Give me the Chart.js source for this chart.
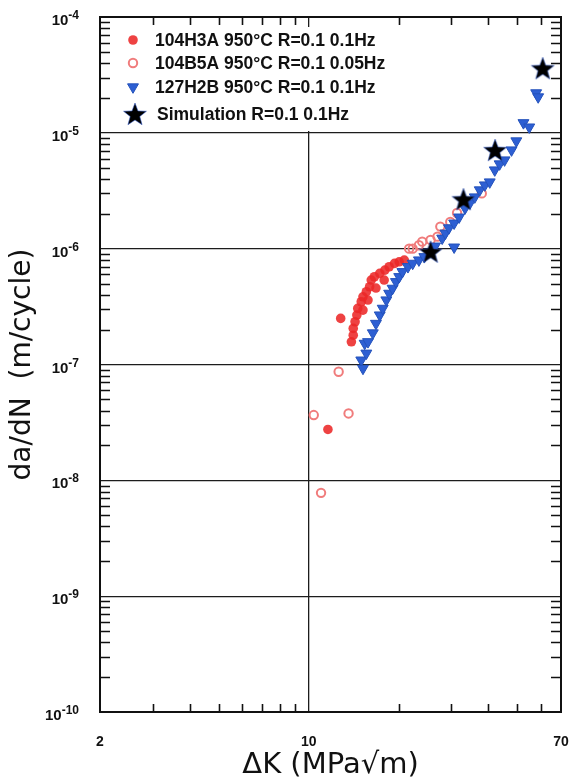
<!DOCTYPE html>
<html>
<head>
<meta charset="utf-8">
<script src="https://cdn.jsdelivr.net/npm/chart.js@4.4.1/dist/chart.umd.min.js"></script>
<style>
  html, body { margin: 0; padding: 0; background: #fff; }
  #wrap { width: 574px; height: 783px; }
</style>
</head>
<body>
<div id="wrap"><canvas id="crack" width="574" height="783"></canvas></div>
<script>
// --- Data: ΔK (MPa√m) and da/dN (m/cycle) per specimen ---
const h3aK = [11.6, 12.8, 13.9, 14.1, 14.1, 14.3, 14.5, 14.6, 15.0, 15.2, 15.2, 15.6, 15.8, 16.0, 16.2, 16.6, 16.8, 17.3, 17.9, 18.0, 18.6, 19.4, 20.1, 20.9];
const h3aRate = [2.75e-8, 2.50e-7, 1.57e-7, 1.79e-7, 2.05e-7, 2.34e-7, 2.67e-7, 3.05e-7, 3.48e-7, 3.84e-7, 2.95e-7, 4.25e-7, 3.6e-7, 4.69e-7, 5.36e-7, 5.72e-7, 4.57e-7, 6.12e-7, 5.36e-7, 6.53e-7, 6.98e-7, 7.46e-7, 7.70e-7, 7.97e-7];

const b5aK = [10.4, 11.0, 12.6, 13.6, 21.7, 22.3, 23.4, 24.0, 25.6, 27.0, 27.6, 29.8, 31.4, 38.0];
const b5aRate = [3.66e-8, 7.8e-9, 8.65e-8, 3.78e-8, 1.0e-6, 1.0e-6, 1.07e-6, 1.15e-6, 1.19e-6, 1.27e-6, 1.55e-6, 1.70e-6, 2.03e-6, 3.0e-6];

const h2bK = [15.0, 15.2, 15.4, 15.6, 15.8, 16.4, 16.8, 17.3, 17.7, 18.2, 18.6, 19.1, 19.6, 20.1, 20.6, 21.5, 22.3, 23.4, 24.4, 26.5, 28.0, 28.7, 29.5, 30.7, 30.7, 31.9, 33.4, 34.7, 36.0, 37.4, 38.9, 40.4, 42.0, 43.6, 45.3, 47.8, 49.6, 52.4, 54.8, 57.8, 58.7];
const h2bRate = [1.09e-7, 9.25e-8, 1.52e-7, 1.25e-7, 1.57e-7, 1.87e-7, 2.26e-7, 2.67e-7, 3.05e-7, 3.6e-7, 4.11e-7, 4.54e-7, 5.18e-7, 5.72e-7, 6.32e-7, 6.98e-7, 7.46e-7, 7.97e-7, 8.51e-7, 1.05e-6, 1.23e-6, 1.36e-6, 1.51e-6, 1.66e-6, 1.03e-6, 1.87e-6, 2.24e-6, 2.48e-6, 2.79e-6, 3.21e-6, 3.54e-6, 3.76e-6, 4.77e-6, 5.38e-6, 5.82e-6, 7.1e-6, 8.5e-6, 1.22e-5, 1.12e-5, 2.21e-5, 2.04e-5];

const simK = [25.6, 33.0, 42.1, 60.8];
const simRate = [9.4e-7, 2.67e-6, 7.1e-6, 3.61e-5];

const seriesNames = [
  '104H3A 950°C R=0.1 0.1Hz',
  '104B5A 950°C R=0.1 0.05Hz',
  '127H2B 950°C R=0.1 0.1Hz',
  'Simulation R=0.1 0.1Hz'
];

// --- Axis ticks ---
const xTickValues = [2, 3, 4, 5, 6, 7, 8, 9, 10, 20, 30, 40, 50, 60, 70];
const xLabelValues = [2, 10, 70];
const xGridValues = [10];
const yDecades = [1e-10, 1e-9, 1e-8, 1e-7, 1e-6, 1e-5, 1e-4];
const yExponents = [-10, -9, -8, -7, -6, -5, -4];
const yMinorSteps = [2, 3, 4, 5, 6, 7, 8, 9];

const toPoints = (xs, ys) => xs.map((x, i) => ({ x: x, y: ys[i] }));

// filled five-point star used as the simulation marker
function makeStar(size) {
  const c = document.createElement('canvas');
  c.width = size;
  c.height = size;
  const g = c.getContext('2d');
  const cx = size / 2, cy = size / 2 + 1, R = size / 2 - 1, r = R * 0.42;
  g.beginPath();
  for (let i = 0; i < 10; i++) {
    const a = -Math.PI / 2 + i * Math.PI / 5;
    const rad = i % 2 ? r : R;
    g.lineTo(cx + rad * Math.cos(a), cy + rad * Math.sin(a));
  }
  g.closePath();
  g.fillStyle = '#000';
  g.fill();
  g.strokeStyle = 'rgba(50,90,200,0.55)';
  g.lineWidth = 1;
  g.stroke();
  return c;
}
const starImg = makeStar(26);

const LABEL_FONT = '"Liberation Sans", Arial, Helvetica, sans-serif';
const TITLE_FONT = '"DejaVu Sans", "Liberation Sans", sans-serif';

// --- Frame, inward ticks, y labels with exponents and the inset legend ---
const framePlugin = {
  id: 'framePlugin',
  afterDatasetsDraw(chart) {
    const ctx = chart.ctx;
    const area = chart.chartArea;
    const xs = chart.scales.x;
    const ys = chart.scales.y;

    ctx.save();

    // legend panel
    ctx.fillStyle = '#fff';
    ctx.fillRect(113, 27, 310, 104);
    const rowY = [40, 63, 87, 114];
    chart.data.datasets.forEach((ds, i) => {
      const opts = {
        pointStyle: ds.pointStyle,
        rotation: ds.rotation || 0,
        radius: ds.pointRadius,
        borderWidth: ds.pointBorderWidth
      };
      ctx.fillStyle = ds.pointBackgroundColor;
      ctx.strokeStyle = ds.pointBorderColor;
      ctx.lineWidth = ds.pointBorderWidth;
      Chart.helpers.drawPoint(ctx, opts, i === 3 ? 135 : 133, rowY[i]);
      ctx.fillStyle = '#111';
      ctx.font = 'bold 17.5px ' + LABEL_FONT;
      ctx.textAlign = 'left';
      ctx.textBaseline = 'middle';
      ctx.fillText(ds.label, i === 3 ? 157 : 155, rowY[i] + 1);
    });

    // minor ticks
    ctx.strokeStyle = '#111';
    ctx.lineWidth = 1.6;
    ctx.beginPath();
    xTickValues.forEach(v => {
      if (xLabelValues.includes(v) || xGridValues.includes(v)) return;
      const px = Math.round(xs.getPixelForValue(v)) + 0.5;
      ctx.moveTo(px, area.bottom); ctx.lineTo(px, area.bottom - 8);
      ctx.moveTo(px, area.top); ctx.lineTo(px, area.top + 8);
    });
    yDecades.slice(0, -1).forEach(d => {
      yMinorSteps.forEach(m => {
        const py = Math.round(ys.getPixelForValue(d * m)) + 0.5;
        ctx.moveTo(area.left, py); ctx.lineTo(area.left + 10, py);
        ctx.moveTo(area.right, py); ctx.lineTo(area.right - 10, py);
      });
    });
    ctx.stroke();

    // frame
    ctx.lineWidth = 2;
    ctx.strokeRect(area.left, area.top, area.right - area.left, area.bottom - area.top);

    // y labels: 10 with a raised exponent
    ctx.fillStyle = '#111';
    ctx.textAlign = 'right';
    ctx.textBaseline = 'alphabetic';
    yDecades.forEach((v, i) => {
      const py = ys.getPixelForValue(v);
      const exp = String(yExponents[i]);
      ctx.font = 'bold 12px ' + LABEL_FONT;
      const ew = ctx.measureText(exp).width;
      ctx.fillText(exp, 79, py + 2);
      ctx.font = 'bold 15px ' + LABEL_FONT;
      ctx.fillText('10', 79 - ew, py + 8);
    });

    ctx.restore();
  }
};

const chart = new Chart(document.getElementById('crack'), {
  type: 'scatter',
  data: {
    datasets: [
      {
        label: seriesNames[0],
        data: toPoints(h3aK, h3aRate),
        pointStyle: 'circle',
        pointRadius: 4.8,
        pointBorderWidth: 0,
        pointBackgroundColor: 'rgba(236,40,40,0.88)',
        pointBorderColor: 'rgba(236,40,40,0.88)',
        order: 2
      },
      {
        label: seriesNames[1],
        data: toPoints(b5aK, b5aRate),
        pointStyle: 'circle',
        pointRadius: 4.2,
        pointBorderWidth: 2,
        pointBackgroundColor: 'rgba(255,255,255,0)',
        pointBorderColor: '#f07c7c',
        order: 3
      },
      {
        label: seriesNames[2],
        data: toPoints(h2bK, h2bRate),
        pointStyle: 'triangle',
        rotation: 180,
        pointRadius: 6.3,
        pointBorderWidth: 1,
        pointBackgroundColor: '#2d5fd3',
        pointBorderColor: '#2452bb',
        order: 1
      },
      {
        label: seriesNames[3],
        data: toPoints(simK, simRate),
        pointStyle: starImg,
        pointRadius: 13,
        pointBorderWidth: 0,
        pointBackgroundColor: '#000',
        pointBorderColor: '#000',
        order: 0
      }
    ]
  },
  options: {
    responsive: false,
    animation: false,
    devicePixelRatio: 1,
    layout: { padding: { left: 0, top: 17, right: 8, bottom: 0 } },
    plugins: {
      legend: { display: false },
      tooltip: { enabled: false }
    },
    scales: {
      x: {
        type: 'logarithmic',
        min: 2,
        max: 70,
        afterBuildTicks: scale => { scale.ticks = xTickValues.map(v => ({ value: v })); },
        afterFit: scale => { scale.height = 71; scale.paddingLeft = 0; scale.paddingRight = 0; },
        grid: {
          color: c => (c.tick && xGridValues.includes(c.tick.value)) ? '#1c1c1c' : 'rgba(0,0,0,0)',
          lineWidth: 1.3,
          drawTicks: false
        },
        border: { display: false },
        ticks: {
          autoSkip: false,
          maxRotation: 0,
          minRotation: 0,
          padding: 22,
          color: '#111',
          font: { family: LABEL_FONT, size: 14, weight: 'bold' },
          callback: v => xLabelValues.includes(v) ? String(v) : ''
        },
        title: {
          display: true,
          text: 'ΔK (MPa√m)',
          color: '#111',
          font: { family: TITLE_FONT, size: 29 },
          padding: { top: 0, bottom: 0 }
        }
      },
      y: {
        type: 'logarithmic',
        min: 1e-10,
        max: 1e-4,
        afterBuildTicks: scale => { scale.ticks = yDecades.map(v => ({ value: v })); },
        afterFit: scale => { scale.width = 100; scale.paddingTop = 0; scale.paddingBottom = 0; },
        grid: { color: '#1c1c1c', lineWidth: 1.3, drawTicks: false },
        border: { display: false },
        ticks: { display: false },
        title: {
          display: true,
          text: 'da/dN  (m/cycle)',
          color: '#111',
          font: { family: TITLE_FONT, size: 28 },
          padding: { top: 6, bottom: 0 }
        }
      }
    }
  },
  plugins: [framePlugin]
});
</script>
</body>
</html>
